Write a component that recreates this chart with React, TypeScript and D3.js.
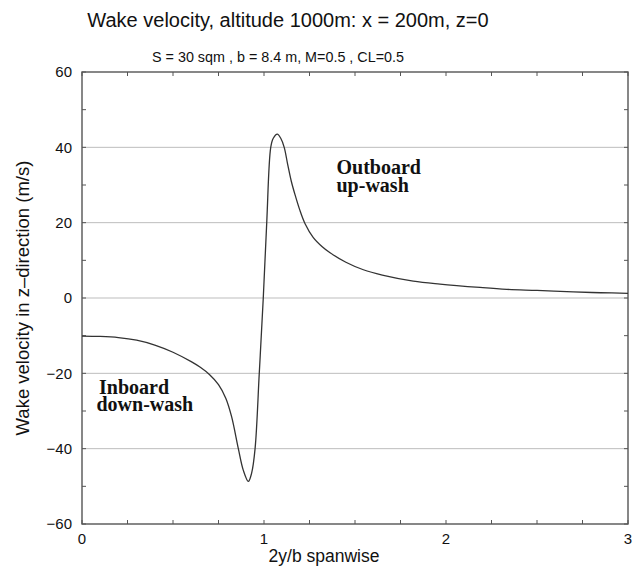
import React from "react";
import * as d3 from "d3";

const spanwise = [0, 0.1, 0.2, 0.3, 0.4, 0.5, 0.6, 0.65, 0.7, 0.75, 0.79, 0.822, 0.859, 0.886, 0.914, 0.932, 0.951, 0.974, 0.996, 1.015, 1.037, 1.051, 1.073, 1.092, 1.111, 1.13, 1.15, 1.17, 1.195, 1.225, 1.27, 1.32, 1.363, 1.45, 1.546, 1.65, 1.82, 1.967, 2.187, 2.334, 2.5, 2.699, 2.85, 3.0];
const wakeVelocity = [-10.1, -10.2, -10.5, -11.2, -12.5, -14.4, -16.9, -18.4, -20.3, -23.0, -26.6, -31.5, -40.0, -45.7, -48.7, -46.5, -40.0, -20.0, 0, 20, 40, 42.4, 43.5, 42.4, 40.0, 35.5, 31.0, 27.5, 23.6, 19.8, 16.1, 13.6, 12.0, 9.5, 7.5, 6.1, 4.5, 3.7, 2.8, 2.3, 2.0, 1.6, 1.4, 1.25];

const xTickLabels = [0, 1, 2, 3];
const xMinorTicks = d3.range(0, 3.001, 0.25);
const yTickLabels = [60, 40, 20, 0, -20, -40, -60];
const yMinorTicks = d3.range(-60, 60.001, 10);
const gridValues = [40, 20, 0, -20, -40];

const title = "Wake velocity, altitude 1000m: x = 200m, z=0";
const subtitle = "S = 30 sqm , b = 8.4 m, M=0.5 , CL=0.5";
const xTitle = "2y/b spanwise";
const yTitle = "Wake velocity in z\u2013direction (m/s)";

export default function App() {
  const left = 82, right = 628, top = 72, bottom = 524;
  const x = d3.scaleLinear().domain([0, 3]).range([left, right]);
  const y = d3.scaleLinear().domain([-60, 60]).range([bottom, top]);
  const line = d3
    .line<number>()
    .x((_, i) => x(spanwise[i]))
    .y((d) => y(d))
    .curve(d3.curveCatmullRom.alpha(0.5));
  const sans = "'Liberation Sans', Arial, Helvetica, sans-serif";
  const serif = "'Liberation Serif', 'Times New Roman', serif";
  const fmt = (v: number) => (v < 0 ? "\u2212" + Math.abs(v) : String(v));
  const tl = 4;
  return (
    <svg width={643} height={570} style={{ position: "absolute", left: 0, top: 0, background: "#fff" }}>
      <rect x={0} y={0} width={643} height={570} fill="#fff" />
      <text x={288} y={27} textAnchor="middle" fontFamily={sans} fontSize={20} fill="#111">{title}</text>
      <text x={278} y={62} textAnchor="middle" fontFamily={sans} fontSize={14} textLength={252} lengthAdjust="spacingAndGlyphs" fill="#111">{subtitle}</text>
      {gridValues.map((g) => (
        <line key={"g" + g} x1={left} x2={right} y1={y(g)} y2={y(g)} stroke="#bdbdbd" strokeWidth={1} />
      ))}
      {xMinorTicks.map((t) => (
        <g key={"xt" + t}>
          <line x1={x(t)} x2={x(t)} y1={bottom} y2={bottom - tl} stroke="#555" strokeWidth={1} />
          <line x1={x(t)} x2={x(t)} y1={top} y2={top + tl} stroke="#555" strokeWidth={1} />
        </g>
      ))}
      {yMinorTicks.map((t) => (
        <g key={"yt" + t}>
          <line x1={left} x2={left + tl} y1={y(t)} y2={y(t)} stroke="#555" strokeWidth={1} />
          <line x1={right} x2={right - tl} y1={y(t)} y2={y(t)} stroke="#555" strokeWidth={1} />
        </g>
      ))}
      <rect x={left} y={top} width={right - left} height={bottom - top} fill="none" stroke="#555" strokeWidth={1.4} />
      <path d={line(wakeVelocity) || ""} fill="none" stroke="#333" strokeWidth={1.3} />
      {yTickLabels.map((t) => (
        <text key={"yl" + t} x={left - 10} y={y(t)} dy="0.35em" textAnchor="end" fontFamily={sans} fontSize={15} fill="#111">{fmt(t)}</text>
      ))}
      {xTickLabels.map((t) => (
        <text key={"xl" + t} x={x(t)} y={544} textAnchor="middle" fontFamily={sans} fontSize={15} fill="#111">{t}</text>
      ))}
      <text x={324} y={562} textAnchor="middle" fontFamily={sans} fontSize={17.5} fill="#111">{xTitle}</text>
      <text transform={`translate(29,${(top + bottom) / 2}) rotate(-90)`} textAnchor="middle" fontFamily={sans} fontSize={18.5} fill="#111">{yTitle}</text>
      <text x={336.5} y={174} fontFamily={serif} fontWeight="bold" fontSize={20} fill="#111">Outboard</text>
      <text x={336.5} y={192} fontFamily={serif} fontWeight="bold" fontSize={20} fill="#111">up-wash</text>
      <text x={99} y={394} fontFamily={serif} fontWeight="bold" fontSize={20} fill="#111">Inboard</text>
      <text x={96.5} y={411} fontFamily={serif} fontWeight="bold" fontSize={20} fill="#111">down-wash</text>
    </svg>
  );
}
